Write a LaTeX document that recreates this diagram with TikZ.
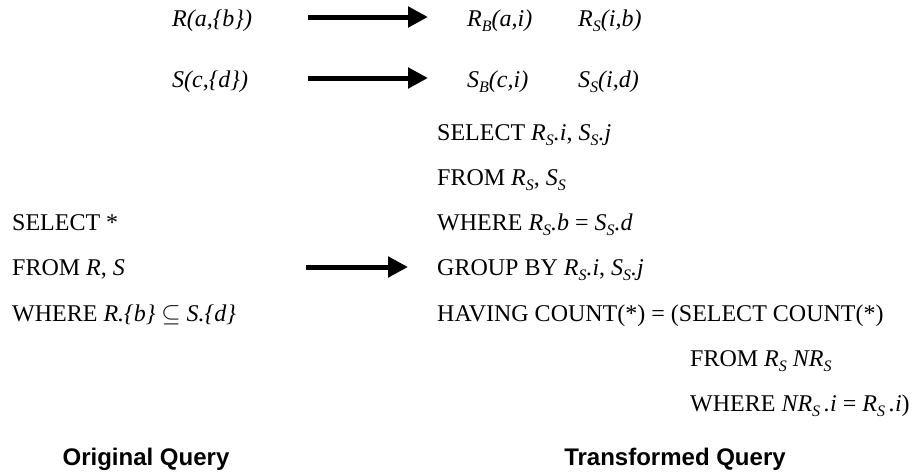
\documentclass[tikz,border=0pt]{standalone}
\usepackage{fontspec}
\setmainfont{Liberation Serif}
\newfontfamily\capfont{Liberation Sans}
\usetikzlibrary{arrows.meta}
\newcommand{\rsub}[2]{\textit{#1}\raisebox{-5pt}{\fontsize{16}{16}\selectfont\textit{#2}}}
\tikzset{
  qline/.style={anchor=base west,inner sep=0pt,font=\fontsize{24}{28}\selectfont},
  qcap/.style={anchor=base,inner sep=0pt,font=\capfont\bfseries\fontsize{24}{28}\selectfont},
  bigarrow/.style={line width=5pt,-{Triangle[length=20pt,width=20pt]}}
}
\begin{document}
\begin{tikzpicture}[x=1pt,y=-1pt]
  \useasboundingbox (0,0) rectangle (920,475);
  % relations
  \node[qline] (r)  at (172,26) {\textit{R(a,\{b\})}};
  \node[qline] (s)  at (172,87) {\textit{S(c,\{d\})}};
  \node[qline] (rb) at (467,26) {\rsub{R}{B}\textit{(a,i)}};
  \node[qline] (rs) at (578,26) {\rsub{R}{S}\textit{(i,b)}};
  \node[qline] (sb) at (467,87) {\rsub{S}{B}\textit{(c,i)}};
  \node[qline] (ss) at (578,87) {\rsub{S}{S}\textit{(i,d)}};
  % original query
  \node[qline] (o1) at (12,230) {SELECT *};
  \node[qline] (o2) at (12,275) {FROM \textit{R}, \textit{S}};
  \node[qline] (o3) at (12,321) {WHERE \textit{R.\{b\}} $\subseteq$ \textit{S.\{d\}}};
  % transformed query
  \foreach \i/\y/\txt in {
      1/140/{SELECT \rsub{R}{S}\textit{.i}, \rsub{S}{S}\textit{.j}},
      2/185/{FROM \rsub{R}{S}, \rsub{S}{S}},
      3/230/{WHERE \rsub{R}{S}\textit{.b} = \rsub{S}{S}\textit{.d}},
      4/275/{GROUP BY \rsub{R}{S}\textit{.i}, \rsub{S}{S}\textit{.j}},
      5/321/{HAVING COUNT(*) = (SELECT COUNT(*)}}
    \node[qline] (t\i) at (437,\y) {\txt};
  \node[qline] (t6) at (690,366) {FROM \rsub{R}{S} \rsub{NR}{S}};
  \node[qline] (t7) at (690,411) {WHERE \rsub{NR}{S}\,\textit{.i} = \rsub{R}{S}\,\textit{.i})};
  % arrows
  \coordinate (a1) at (308,17);  \coordinate (b1) at (428,17);
  \coordinate (a2) at (308,78);  \coordinate (b2) at (428,78);
  \coordinate (a3) at (306,267); \coordinate (b3) at (408,267);
  \draw[bigarrow] (a1) -- (b1);
  \draw[bigarrow] (a2) -- (b2);
  \draw[bigarrow] (a3) -- (b3);
  % captions
  \node[qcap] (c1) at (146,465) {Original Query};
  \node[qcap] (c2) at (675,465) {Transformed Query};
\end{tikzpicture}
\end{document}
